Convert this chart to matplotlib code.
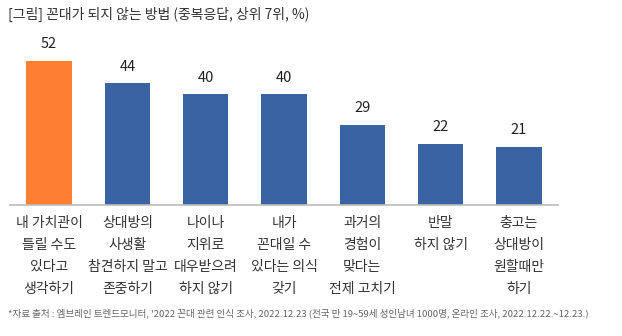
import matplotlib.pyplot as plt

plt.rcParams['font.family'] = ['Noto Sans CJK KR', 'DejaVu Sans']

# 꼰대가 되지 않는 방법 (중복응답, 상위 7위, %)
labels = [
    '내 가치관이\n틀릴 수도\n있다고\n생각하기',
    '상대방의\n사생활\n참견하지 말고\n존중하기',
    '나이나\n지위로\n대우받으려\n하지 않기',
    '내가\n꼰대일 수\n있다는 의식\n갖기',
    '과거의\n경험이\n맞다는\n전제 고치기',
    '반말\n하지 않기',
    '충고는\n상대방이\n원할때만\n하기',
]
values = [52, 44, 40, 40, 29, 22, 21]
colors = ['#FE7E34'] + ['#3A63A3'] * 6

title = '[그림] 꼰대가 되지 않는 방법 (중복응답, 상위 7위, %)'
source = ("*자료 출처 : 엠브레인 트렌드모니터, '2022 꼰대 관련 인식 조사, 2022.12.23 "
          "(전국 만 19~59세 성인남녀 1000명, 온라인 조사, 2022.12.22.~12.23.)")

fig = plt.figure(figsize=(6.22, 3.36), dpi=100)
ax = fig.add_axes([10 / 622, 1 - 205 / 336, 548 / 622, 166 / 336])

x = range(len(values))
ax.bar(x, values, width=0.58, color=colors)
ax.set_xlim(-0.5, 6.5)
ax.set_ylim(0, 60)

for i, v in enumerate(values):
    ax.annotate(str(v), (i, v), xytext=(0, 7), textcoords='offset points',
                ha='center', va='bottom', fontsize=10.5, color='#222222')

ax.set_xticks(list(x))
ax.set_xticklabels(labels, fontsize=10, color='#333333', linespacing=1.72,
                   va='top')
ax.tick_params(axis='x', length=0, pad=8)
ax.set_yticks([])
for s in ['top', 'right', 'left']:
    ax.spines[s].set_visible(False)
ax.spines['bottom'].set_color('#BBBBBB')
ax.spines['bottom'].set_linewidth(1.2)

fig.text(8 / 622, 1 - 14 / 336, title, fontsize=10, color='#333333',
         ha='left', va='center')
fig.text(8 / 622, 1 - 313 / 336, source, fontsize=6.9, color='#666666',
         ha='left', va='center')

fig.savefig('out.png', dpi=100)
